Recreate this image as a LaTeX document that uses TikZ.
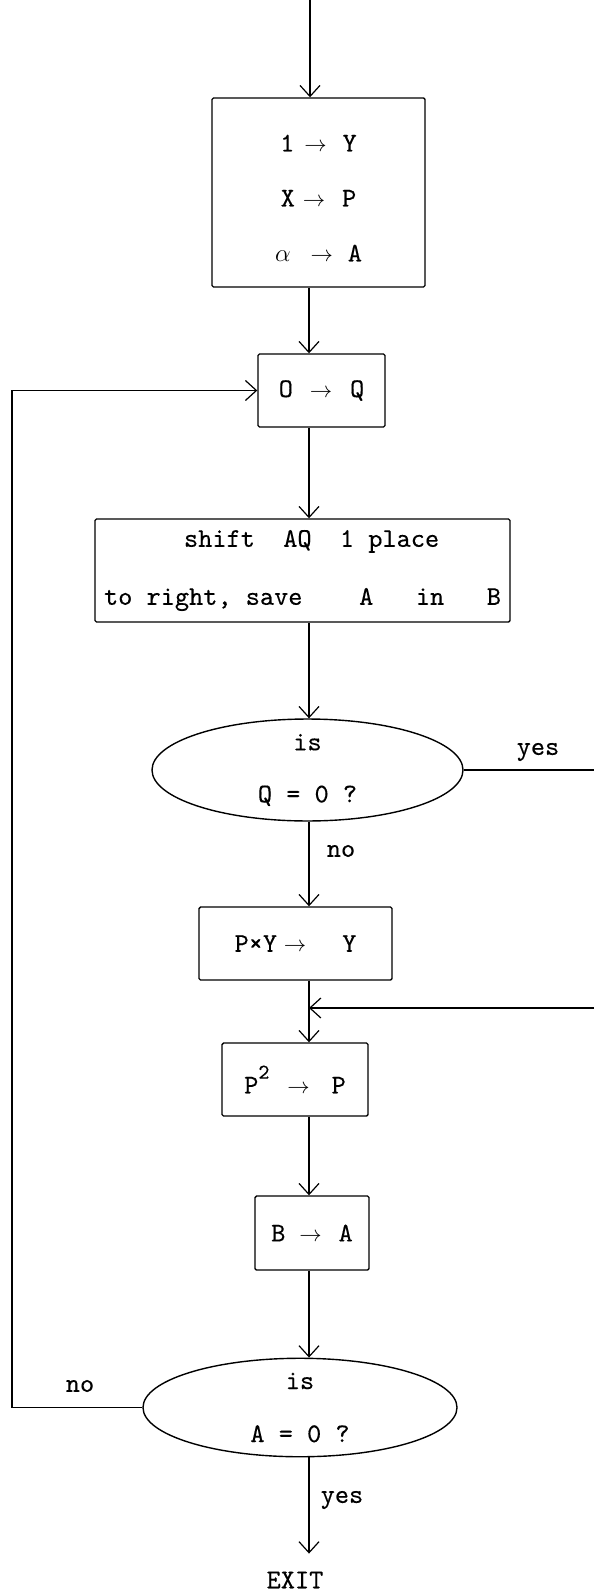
\documentclass[tikz,border=0pt]{standalone}
\usepackage{fontspec}
\usepackage{graphicx}
\setmonofont{lmmono10-regular.otf}[FakeBold=0.3]
\usetikzlibrary{arrows.meta,shapes.geometric,calc}
% small typewriter-style assignment arrow, one character cell wide
\newcommand\ra{\makebox[0.525em]{\scalebox{0.9}{$\rightarrow$}}}
% raised exponent 2
\newcommand\sqr{\raisebox{0.55em}{\fontsize{21}{21}\selectfont 2}}
\begin{document}
\begin{tikzpicture}[x=1pt,y=-1pt,
  every node/.style={font=\ttfamily\fontsize{27}{55}\selectfont},
  conn/.style={line width=1.2pt},
  arr/.style={conn,-{Straight Barb[length=11pt,width=20pt]}},
  proc/.style={draw,line width=1.4pt,rounded corners=1.5pt,inner sep=0pt,align=center},
  test/.style={draw,ellipse,line width=1.4pt,inner sep=0pt,align=center},
  lbl/.style={inner sep=0pt}]
\useasboundingbox (0,0) rectangle (594,1594);

% flow spine and free ends of the connectors
\coordinate (spine) at (309,0);
\coordinate (start) at (310,0);
\coordinate (rside) at (594,0);
\coordinate (lside) at (12,0);
\coordinate (join) at (594,1008);

% boxes and tests
\node[proc,minimum width=213pt,minimum height=189pt] (init) at (318.5,192.5)
  {\rule{0pt}{28pt}1\hspace{14pt}\ra\hspace{20pt}Y\\X\hspace{12pt}\ra\hspace{21pt}P\\$\alpha$\hspace{24pt}\ra\hspace{19pt}A};
\node[proc,minimum width=127pt,minimum height=73pt] (clrq) at (321.5,390.5)
  {O\hspace{21pt}\ra\hspace{22pt}Q};
\node[proc,minimum width=415pt,minimum height=103pt,align=left] (shift) at (302.5,570.5)
  {\hspace*{80pt}shift\ \ AQ\ \ 1 place\\[3pt]to right, save\ \ \ \ A\ \ \ in\ \ \ B};
\node[test,minimum width=311pt,minimum height=90pt] (testq) at (307.5,770)
  {is\\[-3pt]Q = 0 ?};
\node[proc,minimum width=193pt,minimum height=73pt] (mul) at (295.5,943.5)
  {P×Y\hspace{11pt}\ra\hspace{40pt}Y};
\node[proc,minimum width=146pt,minimum height=73pt] (sqp) at (295,1079.5)
  {P\sqr\hspace{22pt}\ra\hspace{26pt}P};
\node[proc,minimum width=114pt,minimum height=74pt] (rest) at (312,1233)
  {B\hspace{18pt}\ra\hspace{21pt}A};
\node[test,minimum width=314pt,minimum height=91pt] (testa) at (300,1407.5)
  {is\\[-2pt]A = 0 ?};
\node[lbl] (exit) at (295,1580) {EXIT};

% branch labels
\node[lbl] (yesq) at (538,752) {yes};
\node[lbl] (noq) at (341,851) {no};
\node[lbl] (noa) at (80,1386) {no};
\node[lbl] (yesa) at (342,1500) {yes};

% connectors
\draw[arr] (start) -- (init.north -| start);
\draw[arr] (init.south -| spine) -- (clrq.north -| spine);
\draw[arr] (clrq.south -| spine) -- (shift.north -| spine);
\draw[arr] (shift.south -| spine) -- (testq.north -| spine);
\draw[conn] (testq.east) -- (testq.east -| rside);
\draw[arr] (testq.south -| spine) -- (mul.north -| spine);
\draw[arr] (mul.south -| spine) -- (sqp.north -| spine);
\draw[arr] (join) -- (join -| spine);
\draw[arr] (sqp.south -| spine) -- (rest.north -| spine);
\draw[arr] (rest.south -| spine) -- (testa.north -| spine);
\draw[arr] (testa.west) -- (testa.west -| lside) |- (clrq.west);
\draw[arr] (testa.south -| spine) -- ([yshift=18pt]exit.north -| spine);
\end{tikzpicture}
\end{document}
